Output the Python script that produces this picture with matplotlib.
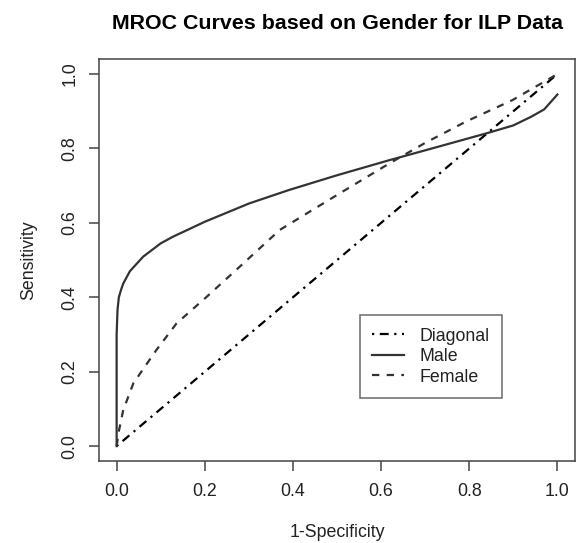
import matplotlib
matplotlib.use("Agg")
import matplotlib.pyplot as plt

# values
diag_x = [0.0, 1.0]
diag_y = [0.0, 1.0]

male_x = [0.0, 0.0, 0.002, 0.005, 0.01, 0.015, 0.03, 0.06, 0.1, 0.128, 0.2,
          0.3, 0.39, 0.5, 0.62, 0.7, 0.84, 0.9, 0.94, 0.97, 1.0]
male_y = [0.0, 0.3, 0.366, 0.4, 0.42, 0.437, 0.47, 0.509, 0.545, 0.563, 0.603,
          0.652, 0.688, 0.728, 0.769, 0.795, 0.841, 0.862, 0.885, 0.905, 0.945]

female_x = [0.0, 0.005, 0.015, 0.038, 0.09, 0.136, 0.204, 0.279, 0.37, 0.5,
            0.619, 0.7, 0.792, 0.898, 1.0]
female_y = [0.0, 0.04, 0.097, 0.169, 0.258, 0.33, 0.401, 0.482, 0.581, 0.675,
            0.76, 0.815, 0.872, 0.93, 1.0]

ticks = [0.0, 0.2, 0.4, 0.6, 0.8, 1.0]
tick_labels = ["0.0", "0.2", "0.4", "0.6", "0.8", "1.0"]

plt.rcParams['font.family'] = ['Liberation Sans', 'DejaVu Sans']

fig = plt.figure(figsize=(5.81, 5.43), dpi=100)
ax = fig.add_axes([0.1704, 0.151, 0.8193, 0.740])

ink = '#222222'
fs = 12.8
ax.plot(diag_x, diag_y, color='black', lw=1.6, dashes=(1, 2.5, 4, 2.5), label='Diagonal')
ax.plot(male_x, male_y, color='#333333', lw=1.6, label='Male')
ax.plot(female_x, female_y, color='#333333', lw=1.6, dashes=(3.3, 3.3), label='Female')

ax.set_xlim(-0.04, 1.04)
ax.set_ylim(-0.04, 1.04)
ax.set_xticks(ticks)
ax.set_xticklabels(tick_labels)
ax.set_yticks(ticks)
ax.set_yticklabels(tick_labels, rotation=90, va='center')
ax.tick_params(direction='out', length=7, width=1.1, colors='#444444',
               labelcolor=ink, labelsize=fs)
ax.tick_params(axis='x', pad=9)
ax.tick_params(axis='y', pad=8)
for s in ax.spines.values():
    s.set_color('#444444')
    s.set_linewidth(1.1)

ax.set_xlabel('1-Specificity', fontsize=fs, color=ink, labelpad=17)
ax.set_ylabel('Sensitivity', fontsize=fs, color=ink, labelpad=17)
ax.set_title('MROC Curves based on Gender for ILP Data', fontsize=15.4,
             fontweight='bold', color='black', pad=22)

leg = ax.legend(loc='upper left', bbox_to_anchor=(0.548, 0.363), fontsize=fs,
                fancybox=False, frameon=True, handlelength=1.8, labelspacing=0.2,
                borderpad=0.7, handletextpad=0.84, borderaxespad=0)
leg.get_frame().set_edgecolor('#444444')
leg.get_frame().set_linewidth(1.1)
for t in leg.get_texts():
    t.set_color(ink)

fig.savefig('out.png', dpi=100)
